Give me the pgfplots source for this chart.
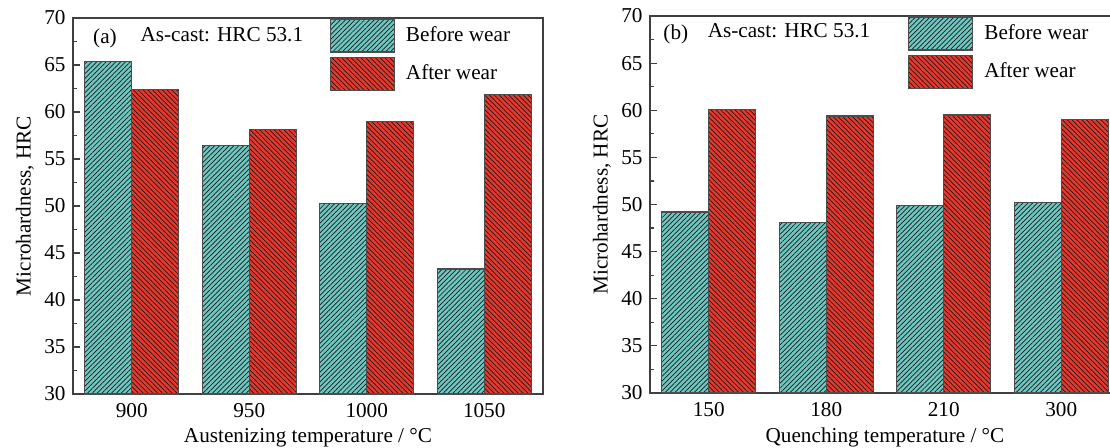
\documentclass[border=0pt]{standalone}
\usepackage{fontspec}
\setmainfont{Liberation Serif}
\usepackage{pgfplots}
\pgfplotsset{compat=1.18}
\usetikzlibrary{patterns.meta}

\definecolor{tealbar}{RGB}{110,198,192}
\definecolor{redbar}{RGB}{230,56,44}

\pgfplotsset{
  hardness/.style={
    scale only axis, width=235pt,
    ybar=0pt, bar width=23.5pt,
    xmin=-0.5, xmax=3.5, ymin=30, ymax=70,
    xtick={0,1,2,3}, major x tick style={draw=none},
    ytick={30,35,...,70}, minor y tick num=1,
    ytick pos=left, tick align=inside,
    major tick length=3.5pt, minor tick length=2pt,
    axis line style={black!75, line width=0.7pt},
    every tick/.style={black!75, line width=0.6pt},
    /pgf/number format/assume math mode=true,
    ylabel={Microhardness, HRC},
    ylabel style={yshift=-2pt},
    xlabel style={yshift=2pt},
    x tick label style={yshift=-1pt},
    legend cell align=left,
    legend style={draw=none, fill=none, inner sep=0pt, row sep=2pt,
      column sep=5pt, nodes={inner sep=0.6pt}, anchor=north west},
    legend image code/.code={\draw[##1] (0pt,-8.25pt) rectangle (32pt,8.25pt);},
  },
  before/.style={fill=tealbar, draw=black!70, line width=0.6pt,
    postaction={pattern={Lines[angle=45,distance=1.7pt,line width=0.35pt]}, pattern color=black!90}},
  after/.style={fill=redbar, draw=black!70, line width=0.6pt,
    postaction={pattern={Lines[angle=-45,distance=1.7pt,line width=0.35pt]}, pattern color=black!90}},
}

\begin{document}
\fontsize{10.6}{12.7}\selectfont
\begin{tikzpicture}
\begin{axis}[hardness, height=188pt, at={(0pt,0pt)},
  xticklabels={900,950,1000,1050},
  xlabel={Austenizing temperature / \textdegree C},
  legend style={at={(0.545,1)}}]
\addplot[before] coordinates {(0,65.4) (1,56.4) (2,50.3) (3,43.3)};
\addlegendentry{Before wear}
\addplot[after] coordinates {(0,62.4) (1,58.1) (2,59.0) (3,61.9)};
\addlegendentry{After wear}
\node[anchor=center] at (rel axis cs:0.068,0.945) {(a)};
\node[anchor=west] at (rel axis cs:0.128,0.955) {As-cast: HRC 53.1};
\end{axis}

\begin{axis}[hardness, height=188.5pt, at={(288.5pt,0.5pt)},
  xticklabels={150,180,210,300},
  xlabel={Quenching temperature / \textdegree C},
  legend style={at={(0.548,1)}}]
\addplot[before] coordinates {(0,49.2) (1,48.1) (2,49.9) (3,50.2)};
\addlegendentry{Before wear}
\addplot[after] coordinates {(0,60.1) (1,59.4) (2,59.5) (3,59.0)};
\addlegendentry{After wear}
\node[anchor=center] at (rel axis cs:0.055,0.95) {(b)};
\node[anchor=west] at (rel axis cs:0.107,0.96) {As-cast: HRC 53.1};
\end{axis}
\pgfresetboundingbox
\useasboundingbox (-36.5pt,-26.5pt) rectangle (518.5pt,197pt);
\end{tikzpicture}
\end{document}
